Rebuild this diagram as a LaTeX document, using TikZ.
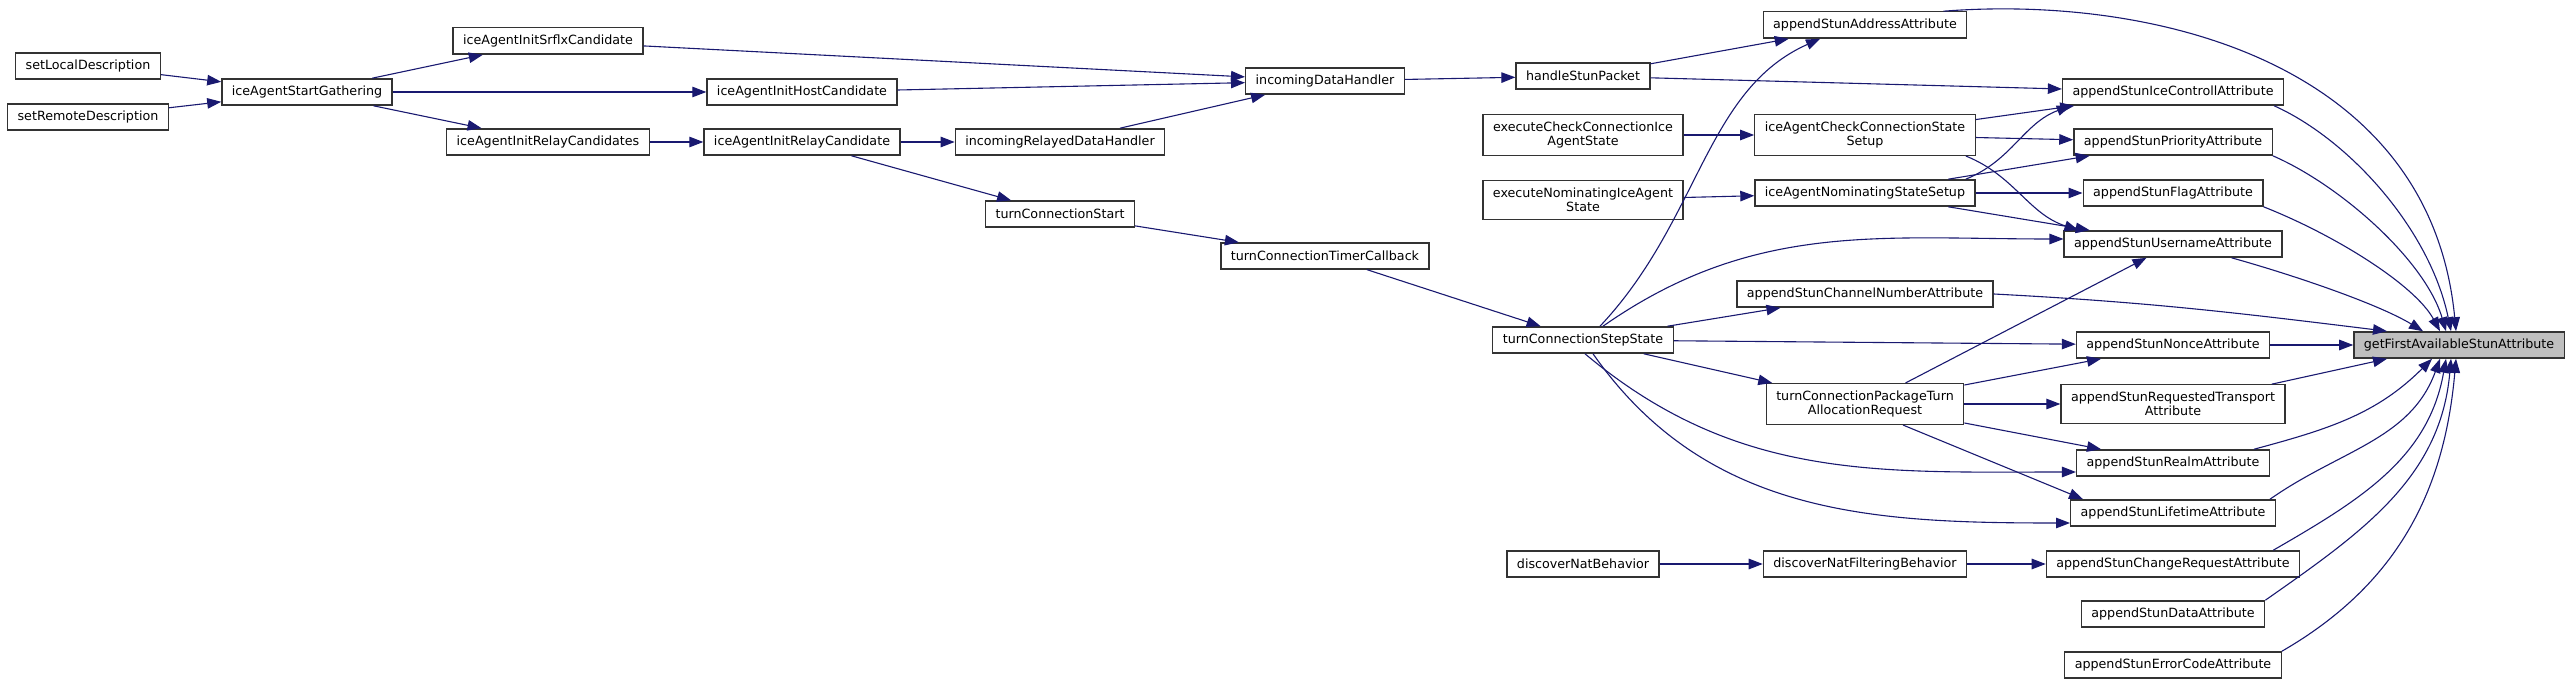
\documentclass[tikz,border=0pt]{standalone}
\usepackage{fontspec}
\setmainfont{DejaVu Sans}
\usetikzlibrary{arrows.meta}

\definecolor{callblue}{HTML}{191970}
\definecolor{rootgray}{HTML}{BFBFBF}

\begin{document}
\begin{tikzpicture}[x=1pt, y=-1pt,
			every node/.style={font=\fontsize{12.7}{14.5}\selectfont},
			func/.style={draw=black!80, line width=1.3pt, fill=white, align=center, inner xsep=10pt, inner ysep=7pt, minimum height=26pt},
			callarr/.style={draw=callblue, line width=1.1pt, -{Triangle[length=14pt,width=10.5pt]}}]
			\useasboundingbox (0,0) rectangle (2573,684);
			% callers, left to right
			\node[func] (sld) at (88,66) {setLocalDescription};
			\node[func] (srd) at (88,117) {setRemoteDescription};
			\node[func] (gath) at (307,92) {iceAgentStartGathering};
			\node[func] (srflx) at (548,41) {iceAgentInitSrflxCandidate};
			\node[func] (relays) at (548,142) {iceAgentInitRelayCandidates};
			\node[func] (host) at (802,92) {iceAgentInitHostCandidate};
			\node[func] (relay) at (802,142) {iceAgentInitRelayCandidate};
			\node[func] (rdh) at (1060,142) {incomingRelayedDataHandler};
			\node[func] (tcs) at (1060,214) {turnConnectionStart};
			\node[func] (idh) at (1325,81) {incomingDataHandler};
			\node[func] (tcb) at (1325,256) {turnConnectionTimerCallback};
			\node[func] (hsp) at (1583,76) {handleStunPacket};
			\node[func] (ecc) at (1583,135) {executeCheckConnectionIce\\AgentState};
			\node[func] (eni) at (1583,200) {executeNominatingIceAgent\\State};
			\node[func] (tss) at (1583,340) {turnConnectionStepState};
			\node[func] (dnb) at (1583,564) {discoverNatBehavior};
			\node[func] (addr) at (1865,25) {appendStunAddressAttribute};
			\node[func] (css) at (1865,135) {iceAgentCheckConnectionState\\Setup};
			\node[func] (nss) at (1865,193) {iceAgentNominatingStateSetup};
			\node[func] (chan) at (1865,294) {appendStunChannelNumberAttribute};
			\node[func] (ptar) at (1865,404) {turnConnectionPackageTurn\\AllocationRequest};
			\node[func] (dnf) at (1865,564) {discoverNatFilteringBehavior};
			% the append functions
			\node[func] (icec) at (2173,92) {appendStunIceControllAttribute};
			\node[func] (prio) at (2173,142) {appendStunPriorityAttribute};
			\node[func] (flag) at (2173,193) {appendStunFlagAttribute};
			\node[func] (user) at (2173,244) {appendStunUsernameAttribute};
			\node[func] (nonce) at (2173,345) {appendStunNonceAttribute};
			\node[func] (rtra) at (2173,404) {appendStunRequestedTransport\\Attribute};
			\node[func] (realm) at (2173,463) {appendStunRealmAttribute};
			\node[func] (life) at (2173,513) {appendStunLifetimeAttribute};
			\node[func] (chreq) at (2173,564) {appendStunChangeRequestAttribute};
			\node[func] (data) at (2173,614) {appendStunDataAttribute};
			\node[func] (errc) at (2173,665) {appendStunErrorCodeAttribute};
			\node[func, fill=rootgray] (gf) at (2459,345) {getFirstAvailableStunAttribute};
			% calls
			\draw[callarr] (sld) -- (gath);
			\draw[callarr] (srd) -- (gath);
			\draw[callarr] (gath) -- (srflx);
			\draw[callarr] (gath) -- (host);
			\draw[callarr] (gath) -- (relays);
			\draw[callarr] (relays) -- (relay);
			\draw[callarr] (srflx) -- (idh);
			\draw[callarr] (host) -- (idh);
			\draw[callarr] (relay) -- (rdh);
			\draw[callarr] (relay) -- (tcs);
			\draw[callarr] (rdh) -- (idh);
			\draw[callarr] (idh) -- (hsp);
			\draw[callarr] (tcs) -- (tcb);
			\draw[callarr] (tcb) -- (tss);
			\draw[callarr] (hsp) -- (addr);
			\draw[callarr] (hsp) -- (icec);
			\draw[callarr] (ecc) -- (css);
			\draw[callarr] (eni) -- (nss);
			\draw[callarr] (css) -- (icec);
			\draw[callarr] (css) -- (prio);
			\draw[callarr] ([xshift=-10pt]css.south east) to[out=-22,in=162] ([xshift=15pt]user.north west);
			\draw[callarr] ([xshift=-10pt]nss.north east) to[out=22,in=-160] ([xshift=9pt]icec.south west);
			\draw[callarr] (nss) -- (prio);
			\draw[callarr] (nss) -- (flag);
			\draw[callarr] (nss) -- (user);
			\draw[callarr] ([xshift=17pt]tss.north) .. controls (1700,220) and (1705,90) .. ([xshift=-45pt]addr.south);
			\draw[callarr] ([xshift=20pt]tss.north) to[out=35,in=180] ([yshift=5pt]user.west);
			\draw[callarr] (tss) -- (chan);
			\draw[callarr] (tss) -- (nonce);
			\draw[callarr] (tss) -- (ptar);
			\draw[callarr] ([xshift=2pt]tss.south) to[out=-40,in=180] ([yshift=-9pt]realm.west);
			\draw[callarr] ([xshift=10pt]tss.south) to[out=-55,in=180] ([yshift=-10pt]life.west);
			\draw[callarr] (ptar) -- (user);
			\draw[callarr] (ptar) -- (nonce);
			\draw[callarr] (ptar) -- (rtra);
			\draw[callarr] (ptar) -- (realm);
			\draw[callarr] ([xshift=38pt]ptar.south) -- ([xshift=-90pt]life.north);
			\draw[callarr] (dnb) -- (dnf);
			\draw[callarr] (dnf) -- (chreq);
			% everything ends in the root
			\draw[callarr] ([xshift=-24pt]addr.north east) .. controls (2150,-5) and (2430,60) .. ([xshift=-3pt]gf.north);
			\draw[callarr] ([xshift=-10pt]icec.south east) .. controls (2350,140) and (2430,230) .. ([xshift=-8pt]gf.north);
			\draw[callarr] (prio.south east) .. controls (2340,185) and (2425,260) .. ([xshift=-13pt]gf.north);
			\draw[callarr] (flag.south east) .. controls (2335,235) and (2415,285) .. ([xshift=-19pt]gf.north);
			\draw[callarr] ([xshift=-51pt]user.south east) .. controls (2300,277) and (2380,305) .. ([xshift=-36pt]gf.north);
			\draw[callarr] (chan.east) to[out=-3,in=173] ([xshift=-72pt]gf.north);
			\draw[callarr] (nonce) -- (gf);
			\draw[callarr] ([xshift=-14pt]rtra.north east) -- ([xshift=-72pt]gf.south);
			\draw[callarr] ([xshift=-16pt]realm.north east) to[out=15,in=-135] ([xshift=-27pt]gf.south);
			\draw[callarr] ([xshift=-6pt]life.north east) to[out=35,in=-110] ([xshift=-19pt]gf.south);
			\draw[callarr] ([xshift=-27pt]chreq.north east) to[out=30,in=-100] ([xshift=-13pt]gf.south);
			\draw[callarr] (data.north east) to[out=35,in=-95] ([xshift=-8pt]gf.south);
			\draw[callarr] (errc.north east) to[out=30,in=-95] ([xshift=-3pt]gf.south);
		\end{tikzpicture}
\end{document}
